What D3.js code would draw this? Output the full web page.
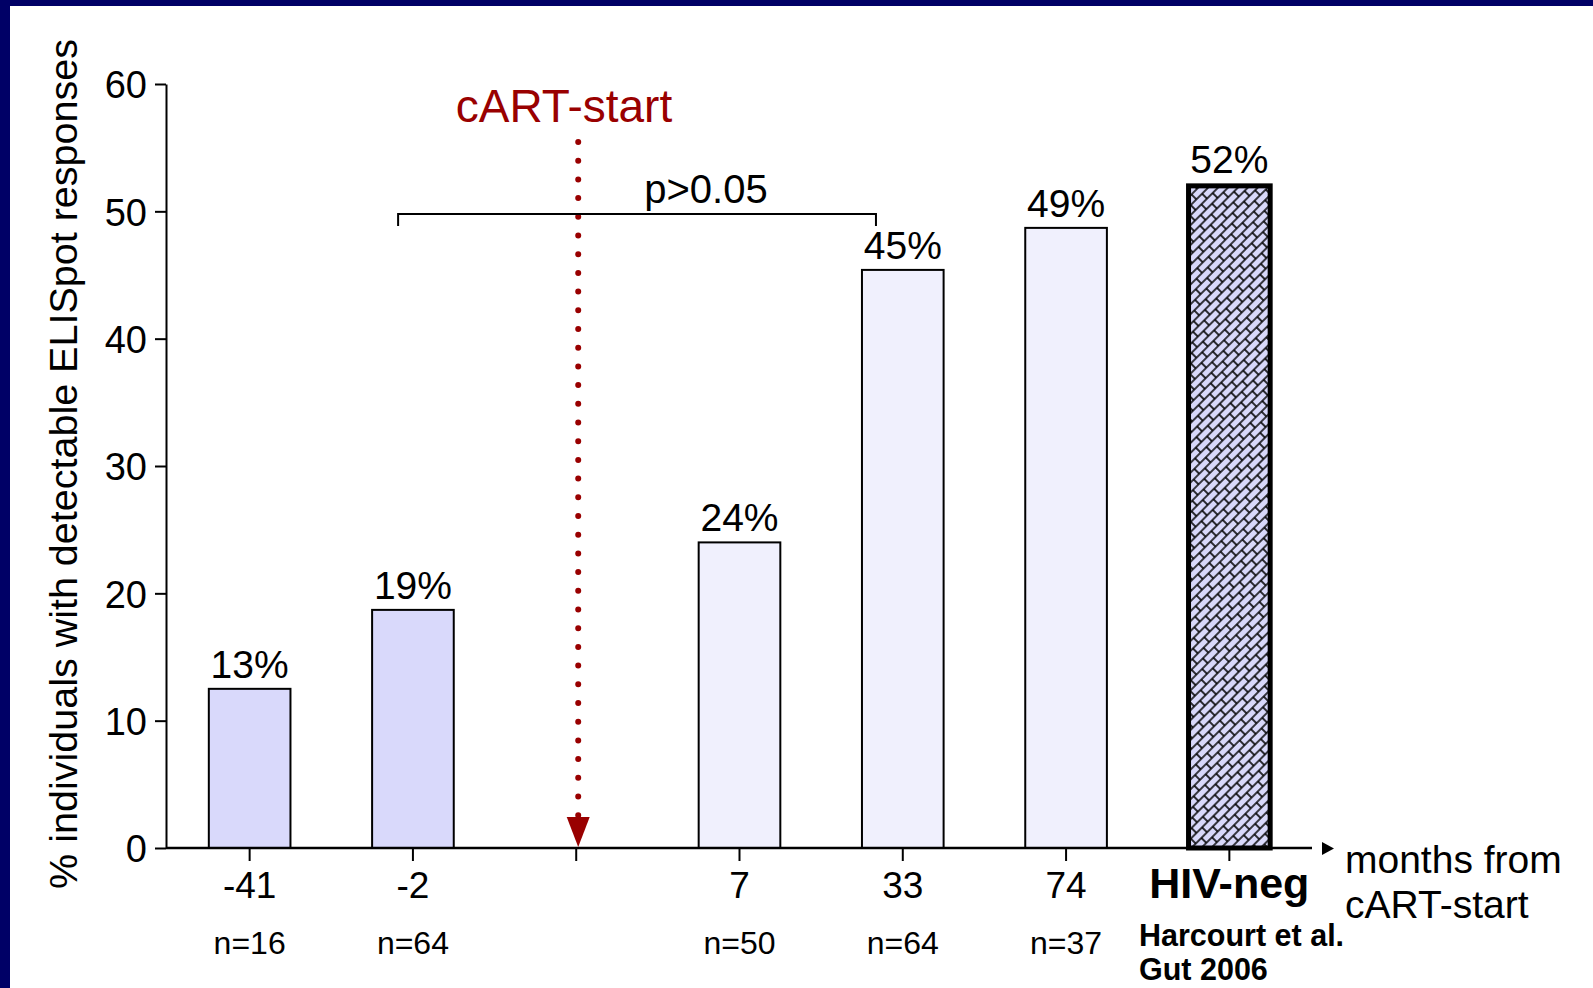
<!DOCTYPE html>
<html>
<head>
<meta charset="utf-8">
<script src="https://cdn.jsdelivr.net/npm/d3@7/dist/d3.min.js"></script>
<style>
  html, body { margin: 0; padding: 0; background: #fff; }
  svg { display: block; font-family: "Liberation Sans", Arial, sans-serif; }
</style>
</head>
<body>
<svg id="chart"></svg>
<script>
var W = 1593, H = 988;

// data
var groups   = ["-41", "-2", "", "7", "33", "74", "HIV-neg"];
var nLabels  = ["n=16", "n=64", "", "n=50", "n=64", "n=37", ""];
var values   = [12.5, 18.7, null, 24, 45.4, 48.7, 52];
var pctText  = ["13%", "19%", "", "24%", "45%", "49%", "52%"];
var kinds    = ["pre", "pre", "", "post", "post", "post", "ref"];
var yTicks   = [0, 10, 20, 30, 40, 50, 60];

var fills = { pre: "#d9d9fb", post: "#f0f0fd" };

var svg = d3.select("#chart").attr("width", W).attr("height", H);

svg.append("rect").attr("width", W).attr("height", H).attr("fill", "#fff");
// navy slide frame
svg.append("rect").attr("x", 0).attr("y", 0).attr("width", 10).attr("height", H).attr("fill", "#000066");
svg.append("rect").attr("x", 0).attr("y", 0).attr("width", W).attr("height", 6).attr("fill", "#000066");

var defs = svg.append("defs");
var pat = defs.append("pattern")
    .attr("id", "brick")
    .attr("patternUnits", "userSpaceOnUse")
    .attr("width", 16).attr("height", 14)
    .attr("patternTransform", "rotate(-45)");
pat.append("rect").attr("width", 16).attr("height", 14).attr("fill", "#d8d8fa");
pat.append("path")
    .attr("d", "M0,0H16M0,7H16M0,14H16M1,0V7M9,7V14")
    .attr("stroke", "#000").attr("stroke-width", 1.6).attr("fill", "none");

var x = d3.scaleBand().domain(d3.range(groups.length))
    .range([168, 1311]).paddingInner(0.5).paddingOuter(0.25);
var y = d3.scaleLinear().domain([0, 60]).range([848, 84]);

// y axis
var yAxis = svg.append("g")
    .attr("transform", "translate(166,0)")
    .call(d3.axisLeft(y).tickValues(yTicks).tickSize(11).tickSizeOuter(0).tickPadding(8));
yAxis.select(".domain").attr("stroke-width", 2);
yAxis.selectAll(".tick line").attr("stroke-width", 2);
yAxis.selectAll(".tick text")
    .attr("font-size", 38).attr("font-family", "Liberation Sans, Arial, sans-serif")
    .attr("fill", "#000").attr("dy", "0.36em");

svg.append("text")
    .attr("transform", "translate(77,464) rotate(-90)")
    .attr("text-anchor", "middle")
    .attr("font-size", 39.5)
    .text("% individuals with detectable ELISpot responses");

// bars
var idx = d3.range(groups.length).filter(function(i) { return values[i] != null; });

svg.selectAll(".bar").data(idx).enter().append("rect")
    .attr("class", "bar")
    .attr("x", function(i) { return x(i); })
    .attr("width", x.bandwidth())
    .attr("y", function(i) { return y(values[i]); })
    .attr("height", function(i) { return y(0) - y(values[i]); })
    .attr("fill", function(i) { return kinds[i] == "ref" ? "url(#brick)" : fills[kinds[i]]; })
    .attr("stroke", "#000")
    .attr("stroke-width", function(i) { return kinds[i] == "ref" ? 5 : 2; });

svg.selectAll(".pct").data(idx).enter().append("text")
    .attr("class", "pct")
    .attr("x", function(i) { return x(i) + x.bandwidth() / 2; })
    .attr("y", function(i) { return y(values[i]) - (kinds[i] == "ref" ? 13 : 11); })
    .attr("text-anchor", "middle")
    .attr("font-size", 39)
    .text(function(i) { return pctText[i]; });

// x axis
var xAxis = svg.append("g")
    .attr("transform", "translate(0,848)")
    .call(d3.axisBottom(x).tickSize(13).tickSizeOuter(0).tickFormat(function() { return ""; }));
xAxis.select(".domain").remove();
xAxis.selectAll(".tick line").attr("stroke-width", 2);
svg.append("line")
    .attr("x1", 166).attr("x2", 1312).attr("y1", 848).attr("y2", 848)
    .attr("stroke", "#000").attr("stroke-width", 2.5);
svg.append("path")
    .attr("d", "M1322,842L1334,848.5L1322,855Z")
    .attr("fill", "#000");

svg.selectAll(".grp").data(d3.range(groups.length)).enter().append("text")
    .attr("class", "grp")
    .attr("x", function(i) { return x(i) + x.bandwidth() / 2; })
    .attr("y", 898)
    .attr("text-anchor", "middle")
    .attr("font-size", function(i) { return kinds[i] == "ref" ? 43 : 37; })
    .attr("font-weight", function(i) { return kinds[i] == "ref" ? "bold" : "normal"; })
    .text(function(i) { return groups[i]; });

svg.selectAll(".nlab").data(d3.range(groups.length)).enter().append("text")
    .attr("class", "nlab")
    .attr("x", function(i) { return x(i) + x.bandwidth() / 2; })
    .attr("y", 954)
    .attr("text-anchor", "middle")
    .attr("font-size", 32)
    .text(function(i) { return nLabels[i]; });

svg.append("text").attr("x", 1139).attr("y", 946)
    .attr("font-size", 30.5).attr("font-weight", "bold").text("Harcourt et al.");
svg.append("text").attr("x", 1139).attr("y", 980)
    .attr("font-size", 30.5).attr("font-weight", "bold").text("Gut 2006");

svg.append("text").attr("x", 1345).attr("y", 873).attr("font-size", 39).text("months from");
svg.append("text").attr("x", 1345).attr("y", 918).attr("font-size", 39).text("cART-start");

// cART start marker
var startX = x(2) + x.bandwidth() / 2 + 2;
svg.append("line")
    .attr("x1", startX).attr("x2", startX).attr("y1", 142).attr("y2", 816)
    .attr("stroke", "#990000").attr("stroke-width", 6)
    .attr("stroke-linecap", "round").attr("stroke-dasharray", "0 18.7");
svg.append("path")
    .attr("d", "M" + (startX - 11.5) + ",817L" + (startX + 11.5) + ",817L" + startX + ",847Z")
    .attr("fill", "#990000");
svg.append("text")
    .attr("x", 564).attr("y", 122)
    .attr("text-anchor", "middle").attr("font-size", 46).attr("fill", "#990000")
    .text("cART-start");

// p-value bracket between -2 and 33
var b1 = x(1) + 26, b2 = x(4) + 14;
svg.append("path")
    .attr("d", "M" + b1 + ",226V214H" + b2 + "V226")
    .attr("fill", "none").attr("stroke", "#000").attr("stroke-width", 2);
svg.append("text")
    .attr("x", 706).attr("y", 203)
    .attr("text-anchor", "middle").attr("font-size", 40)
    .text("p>0.05");
</script>
</body>
</html>
